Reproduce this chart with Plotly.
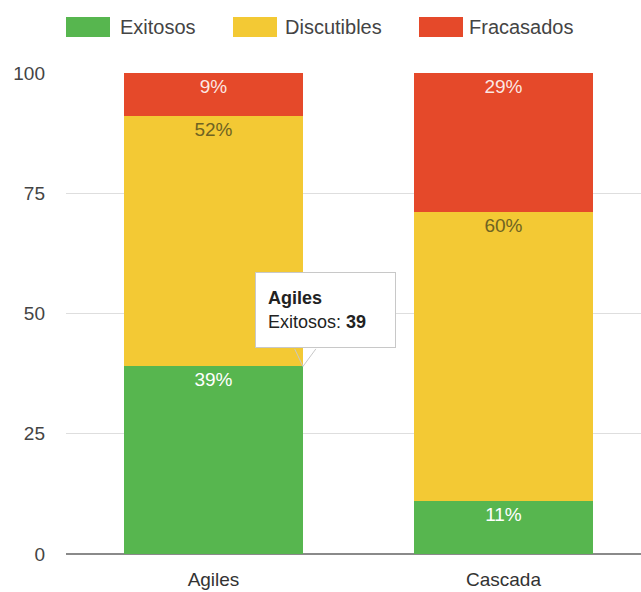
import plotly.graph_objects as go

categories = ["Agiles", "Cascada"]
exitosos = [39, 11]
discutibles = [52, 60]
fracasados = [9, 29]
y_ticks = [0, 25, 50, 75, 100]
series_names = ["Exitosos", "Discutibles", "Fracasados"]
colors = ["#57b64f", "#f3c934", "#e5492a"]
label_colors = ["white", "#6f6322", "rgba(255,255,255,0.88)"]

W, H = 641, 592
ML, MR, MT, MB = 66, 0, 73, 38
PW = W - ML - MR
PH = H - MT - MB
FONT = "Liberation Sans, Arial, sans-serif"
bar_w = 0.617

fig = go.Figure()
for name, vals, c, lc in zip(series_names, [exitosos, discutibles, fracasados], colors, label_colors):
    fig.add_trace(go.Bar(
        x=list(range(len(categories))), y=vals, name=name, width=bar_w,
        marker=dict(color=c, line=dict(width=0)),
        texttemplate="%{y}%", textposition="inside", insidetextanchor="end",
        textangle=0, constraintext="none",
        textfont=dict(family=FONT, size=19, color=lc),
        showlegend=False, hoverinfo="skip",
    ))

x0 = -(213.5 - ML) / 290
x1 = x0 + PW / 290

fig.update_layout(
    width=W, height=H, barmode="stack", bargap=0,
    margin=dict(l=ML, r=MR, t=MT, b=MB, pad=0),
    plot_bgcolor="white", paper_bgcolor="white",
    font=dict(family=FONT, size=19, color="#444"),
    xaxis=dict(range=[x0, x1], tickvals=list(range(len(categories))), ticktext=categories,
               showgrid=False, zeroline=False, showline=False, ticks="",
               tickfont=dict(size=19, color="#333"), ticklabelstandoff=12),
    yaxis=dict(range=[0, 100], tickvals=y_ticks, showgrid=True, gridcolor="#dedede", gridwidth=1,
               zeroline=True, zerolinecolor="#8a8a8a", zerolinewidth=1.5,
               showline=False, ticks="", tickfont=dict(size=19, color="#444"),
               ticklabelstandoff=20),
)

def px_x(px):
    return (px - ML) / PW

def px_y(py):
    return (H - MB - py) / PH

# Custom legend
legend_items = [(66, 118), (233, 283), (419, 467)]
for (sx, tx), name, c in zip(legend_items, series_names, colors):
    fig.add_shape(type="rect", xref="paper", yref="paper",
                  x0=px_x(sx), x1=px_x(sx + 44), y0=px_y(37), y1=px_y(17),
                  fillcolor=c, line=dict(width=0), layer="above")
    fig.add_annotation(xref="paper", yref="paper", x=px_x(tx), y=px_y(27),
                       xanchor="left", yanchor="middle", text=name, showarrow=False,
                       font=dict(family=FONT, size=20, color="#444"))

# Tooltip on Agiles / Exitosos
tip_x = 0 + bar_w / 2
tip_y = exitosos[0]
fig.add_annotation(x=tip_x, y=tip_y, xref="x", yref="y",
                   text=f"<b>{categories[0]}</b><br>{series_names[0]}: <b>{exitosos[0]}</b>",
                   showarrow=False, align="left", xanchor="left", yanchor="bottom",
                   xshift=-48, yshift=18, width=115, height=50,
                   bgcolor="white", bordercolor="#c8c8c8", borderwidth=1, borderpad=12,
                   font=dict(family=FONT, size=18, color="#222"))
for ax in (-9, 14):
    fig.add_annotation(x=tip_x, y=tip_y, xref="x", yref="y", text="",
                       showarrow=True, arrowhead=0, arrowwidth=1, arrowcolor="#c8c8c8",
                       ax=ax, ay=-19, standoff=0, startstandoff=0)

fig.write_html("out.html")
